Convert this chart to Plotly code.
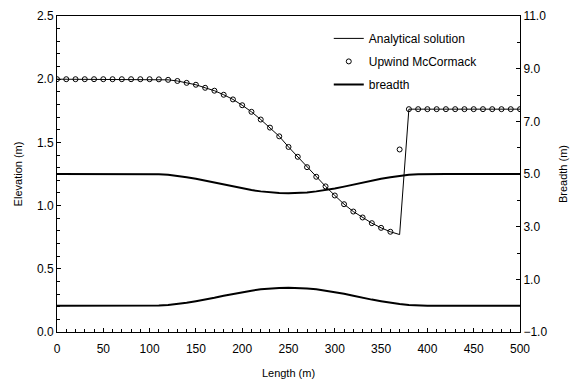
import plotly.graph_objects as go

# Distance along the channel (m), sampled every 10 m
length_m = list(range(0, 510, 10))

# Water surface elevation (m): analytical solution
analytical = [
    2.000, 2.000, 2.000, 2.000, 2.000, 2.000, 2.000, 2.000, 2.000, 2.000,
    2.000, 1.999, 1.995, 1.986, 1.971, 1.956, 1.932, 1.909, 1.877, 1.840,
    1.794, 1.742, 1.681, 1.617, 1.548, 1.464, 1.386, 1.304, 1.228, 1.152,
    1.080, 1.011, 0.953, 0.906, 0.861, 0.824, 0.793, 0.771, 1.763, 1.763,
    1.763, 1.763, 1.763, 1.763, 1.763, 1.763, 1.763, 1.763, 1.763, 1.763,
    1.763,
]

# Water surface elevation (m): upwind McCormack scheme
mccormack = [
    2.000, 2.000, 2.000, 2.000, 2.000, 2.000, 2.000, 2.000, 2.000, 2.000,
    2.000, 1.999, 1.995, 1.986, 1.971, 1.956, 1.932, 1.909, 1.877, 1.840,
    1.794, 1.742, 1.681, 1.617, 1.548, 1.464, 1.386, 1.304, 1.228, 1.152,
    1.080, 1.011, 0.953, 0.906, 0.861, 0.824, 0.793, 1.444, 1.763, 1.763,
    1.763, 1.763, 1.763, 1.763, 1.763, 1.763, 1.763, 1.763, 1.763, 1.763,
    1.763,
]

# Channel banks in plan view (m), right axis
bank_upper = [
    5.00, 5.00, 5.00, 5.00, 5.00, 5.00, 5.00, 5.00, 5.00, 5.00,
    5.00, 4.99, 4.97, 4.93, 4.88, 4.82, 4.75, 4.67, 4.60, 4.52,
    4.45, 4.39, 4.34, 4.30, 4.28, 4.27, 4.28, 4.30, 4.34, 4.39,
    4.45, 4.52, 4.60, 4.67, 4.75, 4.82, 4.88, 4.93, 4.97, 4.99,
    5.00, 5.00, 5.00, 5.00, 5.00, 5.00, 5.00, 5.00, 5.00, 5.00,
    5.00,
]
bank_lower = [
    0.00, 0.00, 0.00, 0.00, 0.00, 0.00, 0.00, 0.00, 0.00, 0.00,
    0.00, 0.01, 0.03, 0.06, 0.11, 0.17, 0.23, 0.30, 0.38, 0.45,
    0.51, 0.57, 0.62, 0.65, 0.67, 0.68, 0.67, 0.65, 0.62, 0.57,
    0.51, 0.45, 0.38, 0.30, 0.23, 0.17, 0.11, 0.06, 0.03, 0.01,
    0.00, 0.00, 0.00, 0.00, 0.00, 0.00, 0.00, 0.00, 0.00, 0.00,
    0.00,
]

FONT = "Liberation Sans, Arial, sans-serif"

fig = go.Figure()

fig.add_trace(go.Scatter(
    x=length_m, y=analytical, mode="lines", name="Analytical solution",
    line=dict(color="black", width=1), legendgroup="a",
))
fig.add_trace(go.Scatter(
    x=length_m, y=mccormack, mode="markers", name="Upwind McCormack",
    marker=dict(symbol="circle-open", size=5, color="black",
                line=dict(color="black", width=1)),
    legendgroup="b",
))
fig.add_trace(go.Scatter(
    x=length_m, y=bank_upper, mode="lines", name="breadth",
    line=dict(color="black", width=2), yaxis="y2", legendgroup="c",
))
fig.add_trace(go.Scatter(
    x=length_m, y=bank_lower, mode="lines", name="breadth",
    line=dict(color="black", width=2), yaxis="y2", legendgroup="c",
    showlegend=False,
))

fig.update_layout(
    width=577, height=379,
    margin=dict(l=57, r=57, t=16, b=47),
    paper_bgcolor="white", plot_bgcolor="white",
    font=dict(family=FONT, size=12, color="black"),
    showlegend=True,
    legend=dict(
        x=0.587, y=0.975, xanchor="left", yanchor="top",
        bgcolor="rgba(0,0,0,0)", borderwidth=0,
        font=dict(family=FONT, size=12, color="black"),
        tracegroupgap=4, traceorder="grouped",
    ),
    xaxis=dict(
        range=[0, 500], dtick=50, tick0=0, automargin=False,
        showline=True, linecolor="black", linewidth=1, mirror=True,
        ticks="inside", ticklen=4, tickcolor="black",
        minor=dict(dtick=10, ticks="inside", ticklen=3, tickcolor="black"),
        showgrid=False, zeroline=False,
        ticklabelstandoff=6,
        title=dict(text="Length (m)", font=dict(size=11), standoff=14),
        tickfont=dict(size=12),
    ),
    yaxis=dict(
        range=[0, 2.5], dtick=0.5, tick0=0, tickformat=".1f", automargin=False,
        showline=True, linecolor="black", linewidth=1,
        ticks="inside", ticklen=4, tickcolor="black",
        minor=dict(dtick=0.1, ticks="inside", ticklen=3, tickcolor="black"),
        showgrid=False, zeroline=False,
        title=dict(text="Elevation (m)", font=dict(size=11), standoff=12),
        tickfont=dict(size=12),
    ),
    yaxis2=dict(
        range=[-1, 11], dtick=2, tick0=-1, tickformat=".1f", automargin=False,
        overlaying="y", side="right",
        showline=True, linecolor="black", linewidth=1,
        ticks="inside", ticklen=4, tickcolor="black",
        minor=dict(dtick=1, ticks="inside", ticklen=3, tickcolor="black"),
        showgrid=False, zeroline=False,
        title=dict(text="Breadth (m)", font=dict(size=11), standoff=12),
        tickfont=dict(size=12),
    ),
)

fig.write_html("out.html")
